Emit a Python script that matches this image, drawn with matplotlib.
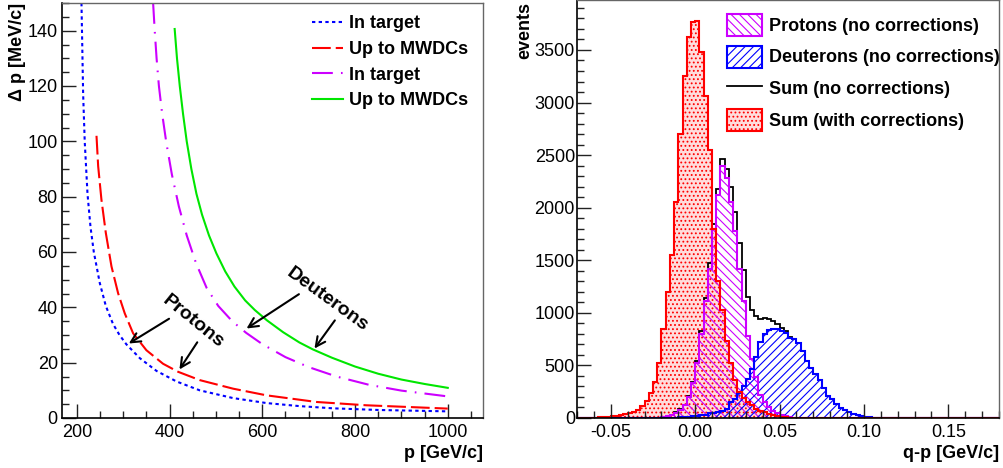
import numpy as np
import matplotlib
matplotlib.use("Agg")
import matplotlib.pyplot as plt
from matplotlib.lines import Line2D
from matplotlib.patches import Patch
from matplotlib.ticker import MultipleLocator, FormatStrFormatter

plt.rcParams['font.family'] = ['Liberation Sans', 'DejaVu Sans']
plt.rcParams['axes.unicode_minus'] = False
plt.rcParams['hatch.linewidth'] = 0.8

# ---- left panel: momentum loss vs momentum (p in GeV/c, dp in MeV/c)
p_prot_target = [210, 213.6, 217, 223, 229.5, 236.6, 249.6, 262.5, 278, 292, 307, 336, 372, 415,
                 465, 537, 609, 680, 752, 850, 1000]
dp_prot_target = [150, 117, 100, 81, 69, 60, 48.7, 40.5, 34, 30, 26.6, 21.6, 17, 13.2,
                  10, 7.2, 5.4, 4.3, 3.5, 2.9, 2.4]

p_prot_mwdc = [242.4, 246, 253, 262.5, 274.7, 289, 303.4, 321.4, 350, 386, 418.4, 465, 537,
               608.8, 716.5, 824, 1000]
dp_prot_mwdc = [102, 91, 79, 66.9, 54.8, 45.1, 37.8, 30.6, 24.5, 19.6, 16.7, 13.7, 10.6,
                8.2, 5.8, 4.6, 3.4]

p_deut_target = [364.5, 368, 372, 377, 384, 393, 405, 420, 437, 457, 480, 505, 535, 565,
                 600, 650, 700, 760, 830, 900, 1000]
dp_deut_target = [150, 140, 130, 120, 110, 99.5, 88, 76.5, 66, 56, 47, 40.5, 35, 30.8,
                  26.7, 22, 18.4, 15, 12, 9.9, 7.8]

p_deut_mwdc = [411, 416, 422, 429, 437, 447, 458, 470, 485, 501, 520, 540, 563, 584,
               610, 645, 680, 709, 750, 800, 850, 900, 950, 1000]
dp_deut_mwdc = [140.6, 130, 120, 110, 100, 90, 81, 73.5, 66, 59.5, 53, 47.5, 42.5, 39,
                35.3, 31, 27.3, 24.8, 21.8, 18.6, 16, 13.9, 12.3, 10.9]

# ---- right panel: q-p histograms, 100 bins from -0.07 to 0.18 GeV/c
bin_edges = np.linspace(-0.07, 0.18, 101)

sum_corr = [0, 0, 1, 2, 3, 5, 7, 10, 15, 22,
            30, 40, 50, 60, 80, 110, 160, 240, 340, 520,
            850, 1200, 1550, 2050, 2700, 3250, 3620, 3770, 3780, 3480,
            3060, 2550, 1800, 1300, 1030, 730, 520, 360, 250, 190,
            150, 120, 90, 70, 55, 42, 30, 20, 12, 7,
            4, 2, 1] + [0] * 47

protons = [0] * 17 + [1, 2, 3,
           8, 15, 30, 50, 80, 120, 200, 330, 520, 800,
           1110, 1420, 1800, 2120, 2400, 2280, 2050, 1780, 1420, 1110,
           780, 560, 390, 220, 150, 100, 70, 45, 25, 15,
           8, 4, 2, 1] + [0] * 46

deuterons = [0] * 23 + [3, 5, 8, 12, 15, 20, 26,
             32, 50, 45, 55, 65, 90, 150, 180, 240, 300,
             370, 470, 580, 720, 800, 840, 850, 850, 830, 810,
             760, 750, 710, 640, 540, 480, 420, 360, 290, 210,
             180, 130, 95, 80, 55, 35, 25, 15, 10, 6,
             4, 2, 1] + [0] * 27

sum_nocorr = np.array(protons) + np.array(deuterons)

c_blue = '#0000ff'
c_red = '#ff0000'
c_mag = '#cc00ff'
c_green = '#00e600'
c_pink = '#ffdcdc'
FS = 13


def root_style(ax, ypad):
    ax.tick_params(which='both', direction='in', top=False, right=False,
                   labelsize=FS, width=1, color='#222222')
    ax.tick_params(which='major', length=10)
    ax.tick_params(which='minor', length=5)
    ax.tick_params(axis='x', pad=4)
    ax.tick_params(axis='y', pad=ypad)
    for s in ['top', 'right']:
        ax.spines[s].set_color('#666666')
        ax.spines[s].set_linewidth(1)
    for s in ['left', 'bottom']:
        ax.spines[s].set_linewidth(1.2)


fig = plt.figure(figsize=(10.04, 4.68), dpi=100)
W, H = 1004, 468

# ================= left panel
ax1 = fig.add_axes([62 / W, 1 - 418 / H, 421 / W, 415 / H])
ax1.plot(p_prot_target, dp_prot_target, color=c_blue, lw=1.5, ls=(0, (1.6, 1.6)))
ax1.plot(p_prot_mwdc, dp_prot_mwdc, color=c_red, lw=1.5, ls=(0, (9, 2.4)))
ax1.plot(p_deut_target, dp_deut_target, color=c_mag, lw=1.5, ls=(0, (10, 3.9, 0.8, 3.9)))
ax1.plot(p_deut_mwdc, dp_deut_mwdc, color=c_green, lw=1.5)
ax1.set_xlim(168, 1076)
ax1.set_ylim(0, 150)
ax1.xaxis.set_major_locator(MultipleLocator(200))
ax1.xaxis.set_minor_locator(MultipleLocator(50))
ax1.yaxis.set_major_locator(MultipleLocator(20))
ax1.yaxis.set_minor_locator(MultipleLocator(5))
root_style(ax1, 3)
ax1.set_xlabel('p [GeV/c]', fontsize=FS, fontweight='bold', loc='right')
ax1.xaxis.set_label_coords(1.0, -0.065)
ax1.set_ylabel('\u0394 p [MeV/c]', fontsize=FS, fontweight='bold', loc='top')
ax1.yaxis.set_label_coords(-0.0855, 1.0)

h1 = [Line2D([], [], color=c_blue, lw=1.5, ls=(0, (1.6, 1.6))),
      Line2D([], [], color=c_red, lw=1.5, ls=(0, (9, 2.4))),
      Line2D([], [], color=c_mag, lw=1.5, ls=(0, (10, 3.9, 0.8, 3.9))),
      Line2D([], [], color=c_green, lw=1.5)]
ax1.legend(h1, ['In target', 'Up to MWDCs', 'In target', 'Up to MWDCs'],
           loc='upper left', bbox_to_anchor=(0.594, 0.970), frameon=False,
           prop={'size': FS, 'weight': 'bold'}, handlelength=1.72,
           handletextpad=0.33, labelspacing=0.48, borderpad=0, borderaxespad=0)

arrow = dict(arrowstyle='->', lw=1.5, color='black', mutation_scale=17)
ax1.annotate('', xy=(307, 26.4), xytext=(404, 36.4), arrowprops=arrow)
ax1.annotate('', xy=(418, 16.7), xytext=(463, 28.2), arrowprops=arrow)
ax1.annotate('', xy=(561, 31.8), xytext=(684, 45.3), arrowprops=arrow)
ax1.annotate('', xy=(709, 24.3), xytext=(760, 36.1), arrowprops=arrow)
ax1.text(450, 34.7, 'Protons', rotation=-39, rotation_mode='anchor', ha='center', va='center',
         fontsize=14, fontweight='bold')
ax1.text(741, 42.7, 'Deuterons', rotation=-36, rotation_mode='anchor', ha='center', va='center',
         fontsize=14, fontweight='bold')

# ================= right panel
ax2 = fig.add_axes([577 / W, 1 - 418 / H, 422 / W, 418.5 / H])
ax2.stairs(sum_corr, bin_edges, fill=True, facecolor=c_pink, edgecolor=c_red,
           hatch='....', lw=0)
ax2.stairs(protons, bin_edges, fill=True, facecolor='none', edgecolor=c_mag,
           hatch='\\\\\\\\', lw=0)
ax2.stairs(deuterons, bin_edges, fill=True, facecolor='none', edgecolor=c_blue,
           hatch='////', lw=0)
ax2.stairs(sum_nocorr, bin_edges, color='black', lw=1.3)
ax2.stairs(protons, bin_edges, color=c_mag, lw=1.5)
ax2.stairs(deuterons, bin_edges, color=c_blue, lw=1.5)
ax2.stairs(sum_corr, bin_edges, color=c_red, lw=1.5)
ax2.set_xlim(-0.07, 0.18)
ax2.set_ylim(0, 3980)
ax2.xaxis.set_major_locator(MultipleLocator(0.05))
ax2.xaxis.set_minor_locator(MultipleLocator(0.01))
ax2.xaxis.set_major_formatter(FormatStrFormatter('%.2f'))
ax2.yaxis.set_major_locator(MultipleLocator(500))
ax2.yaxis.set_minor_locator(MultipleLocator(100))
root_style(ax2, 1.5)
ax2.set_xlabel('q-p [GeV/c]', fontsize=FS, fontweight='bold', loc='right')
ax2.xaxis.set_label_coords(1.0, -0.065)
ax2.set_ylabel('events', fontsize=FS, fontweight='bold', loc='top')
ax2.yaxis.set_label_coords(-0.104, 0.995)

h2 = [Patch(facecolor='white', edgecolor=c_mag, hatch='\\\\\\\\', lw=1.5),
      Patch(facecolor='white', edgecolor=c_blue, hatch='////', lw=1.5),
      Line2D([], [], color='black', lw=1.3),
      Patch(facecolor=c_pink, edgecolor=c_red, hatch='....', lw=1.5)]
ax2.legend(h2, ['Protons (no corrections)', 'Deuterons (no corrections)',
                'Sum (no corrections)', 'Sum (with corrections)'],
           loc='upper left', bbox_to_anchor=(0.355, 0.966), frameon=False,
           prop={'size': FS, 'weight': 'bold'}, handlelength=1.94, handleheight=1.5,
           handletextpad=0.39, labelspacing=0.54, borderpad=0, borderaxespad=0)

fig.savefig('out.png', dpi=100)
